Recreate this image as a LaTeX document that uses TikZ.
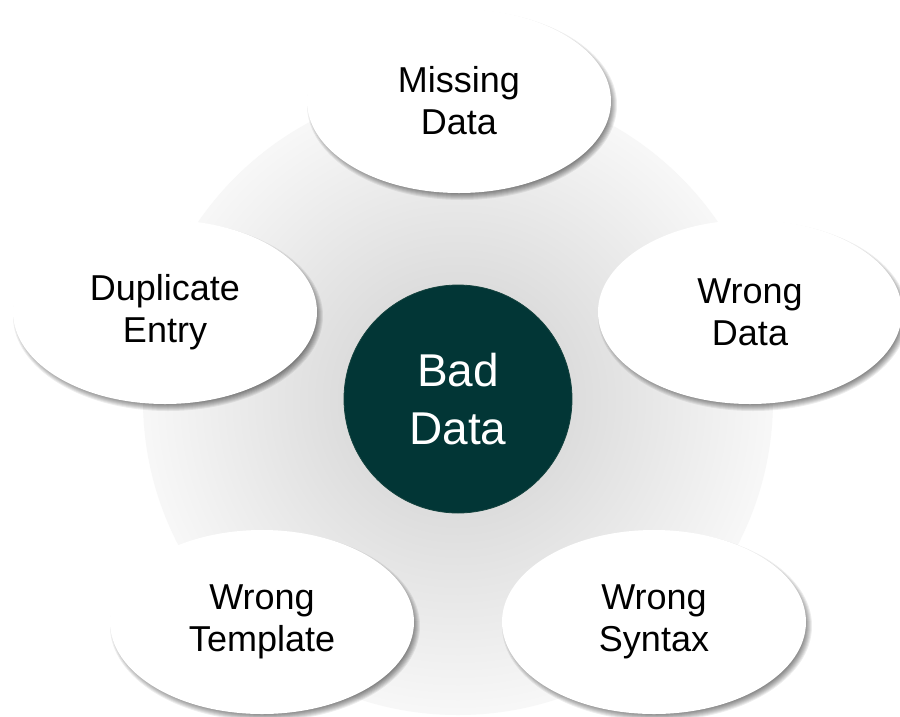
\documentclass[tikz,border=0pt]{standalone}
\usepackage{fontspec}
\setmainfont{Liberation Sans}
\usetikzlibrary{shapes.geometric}
\definecolor{hubfill}{RGB}{2,54,54}
\definecolor{hubline}{RGB}{20,66,62}
\tikzset{
  bubble/.style={ellipse, fill=white, minimum width=304pt, minimum height=184pt,
    inner sep=0pt, align=center, font=\fontsize{36}{42}\selectfont},
  shadowring/.style={fill=black, opacity=0.07},
  hub/.style={circle, minimum size=228pt, inner sep=0pt, fill=hubfill, draw=hubline,
    line width=0.8pt, text=white, align=center, font=\fontsize{46}{58}\selectfont}
}
\newcommand{\bubbleat}[4]{%
  \foreach \d in {-4,-3,-2,-1,0,1,2,3}{
    \fill[shadowring] (#2+3,#3+4) ellipse[x radius=152+\d, y radius=92+\d];
  }
  \node[bubble] (#1) at (#2,#3) {#4};
}
\begin{document}
\begin{tikzpicture}[x=1pt,y=-1pt]
\useasboundingbox (0,0) rectangle (900,716);
\fill[white] (0,0) rectangle (900,716);
\foreach \i [evaluate=\i as \r using 315-7.5*\i, evaluate=\i as \p using 3+0.4*\i] in {0,...,42}{
  \fill[black!\p] (458,400) circle[radius=\r];
}
\bubbleat{missing}{459}{101}{Missing\\Data}
\bubbleat{dup}{165}{312}{Duplicate\\Entry}
\bubbleat{wdata}{750}{312}{Wrong\\Data}
\bubbleat{wtemp}{262}{622}{Wrong\\Template}
\bubbleat{wsyn}{654}{622}{Wrong\\Syntax}
\node[hub] (bad) at (458,399) {Bad\\Data};
\end{tikzpicture}
\end{document}
